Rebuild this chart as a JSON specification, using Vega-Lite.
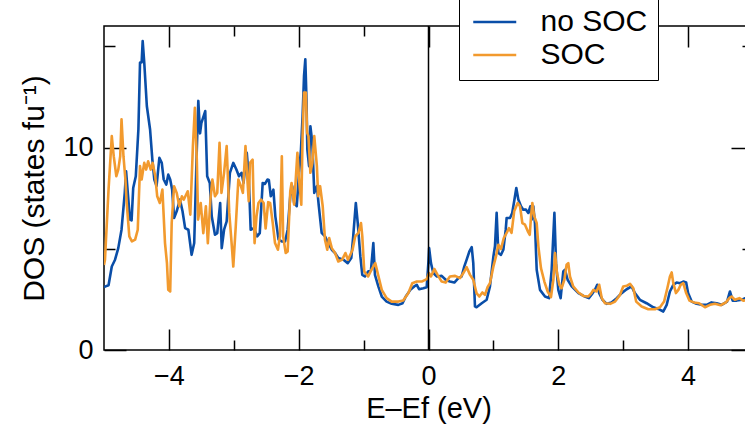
{
  "$schema": "https://vega.github.io/schema/vega-lite/v6.json",
  "autosize": {"type": "none"},
  "width": 649,
  "height": 324,
  "padding": {"left": 104, "top": 26, "right": 0, "bottom": 85},
  "background": "white",
  "config": {
    "view": {"stroke": "black", "strokeWidth": 1.5},
    "font": "Liberation Sans",
    "axis": {"domain": false, "grid": false, "tickColor": "black", "tickWidth": 1.5, "labelColor": "black", "titleColor": "black", "labelFontSize": 27, "titleFontSize": 29, "titleFontWeight": "normal", "labelFont": "Liberation Sans", "titleFont": "Liberation Sans"}
  },
  "layer": [
    {
      "data": {"values": [
{"s":"no SOC","E":-5.0,"D":3.1},{"s":"no SOC","E":-4.985,"D":3.13},{"s":"no SOC","E":-4.93,"D":3.2},{"s":"no SOC","E":-4.88,"D":4.12},{"s":"no SOC","E":-4.83,"D":4.46},{"s":"no SOC","E":-4.78,"D":5.03},{"s":"no SOC","E":-4.73,"D":5.94},{"s":"no SOC","E":-4.68,"D":7.76},{"s":"no SOC","E":-4.66,"D":8.83},{"s":"no SOC","E":-4.6,"D":6.44},{"s":"no SOC","E":-4.575,"D":6.4},{"s":"no SOC","E":-4.55,"D":8.0},{"s":"no SOC","E":-4.51,"D":8.58},{"s":"no SOC","E":-4.47,"D":10.9},{"s":"no SOC","E":-4.445,"D":14.19},{"s":"no SOC","E":-4.42,"D":14.2},{"s":"no SOC","E":-4.404,"D":15.26},{"s":"no SOC","E":-4.38,"D":14.2},{"s":"no SOC","E":-4.34,"D":12.05},{"s":"no SOC","E":-4.29,"D":10.89},{"s":"no SOC","E":-4.255,"D":9.4},{"s":"no SOC","E":-4.225,"D":8.42},{"s":"no SOC","E":-4.19,"D":8.1},{"s":"no SOC","E":-4.147,"D":9.49},{"s":"no SOC","E":-4.11,"D":9.24},{"s":"no SOC","E":-4.08,"D":8.42},{"s":"no SOC","E":-4.04,"D":8.17},{"s":"no SOC","E":-4.01,"D":8.66},{"s":"no SOC","E":-3.98,"D":8.42},{"s":"no SOC","E":-3.95,"D":7.92},{"s":"no SOC","E":-3.92,"D":6.52},{"s":"no SOC","E":-3.88,"D":6.85},{"s":"no SOC","E":-3.83,"D":7.43},{"s":"no SOC","E":-3.79,"D":6.85},{"s":"no SOC","E":-3.75,"D":6.02},{"s":"no SOC","E":-3.7,"D":5.94},{"s":"no SOC","E":-3.65,"D":4.7},{"s":"no SOC","E":-3.61,"D":5.28},{"s":"no SOC","E":-3.57,"D":9.9},{"s":"no SOC","E":-3.547,"D":12.3},{"s":"no SOC","E":-3.52,"D":10.7},{"s":"no SOC","E":-3.5,"D":11.2},{"s":"no SOC","E":-3.44,"D":11.8},{"s":"no SOC","E":-3.41,"D":8.58},{"s":"no SOC","E":-3.37,"D":8.25},{"s":"no SOC","E":-3.34,"D":6.6},{"s":"no SOC","E":-3.29,"D":5.69},{"s":"no SOC","E":-3.255,"D":5.77},{"s":"no SOC","E":-3.21,"D":7.26},{"s":"no SOC","E":-3.186,"D":5.03},{"s":"no SOC","E":-3.15,"D":5.94},{"s":"no SOC","E":-3.11,"D":6.35},{"s":"no SOC","E":-3.06,"D":8.75},{"s":"no SOC","E":-3.008,"D":9.24},{"s":"no SOC","E":-2.96,"D":8.91},{"s":"no SOC","E":-2.92,"D":8.58},{"s":"no SOC","E":-2.88,"D":8.75},{"s":"no SOC","E":-2.85,"D":8.25},{"s":"no SOC","E":-2.8,"D":9.74},{"s":"no SOC","E":-2.77,"D":8.58},{"s":"no SOC","E":-2.74,"D":5.94},{"s":"no SOC","E":-2.69,"D":6.02},{"s":"no SOC","E":-2.64,"D":5.61},{"s":"no SOC","E":-2.6,"D":5.77},{"s":"no SOC","E":-2.555,"D":8.25},{"s":"no SOC","E":-2.52,"D":8.2},{"s":"no SOC","E":-2.48,"D":8.42},{"s":"no SOC","E":-2.46,"D":8.4},{"s":"no SOC","E":-2.43,"D":7.59},{"s":"no SOC","E":-2.39,"D":7.92},{"s":"no SOC","E":-2.36,"D":6.6},{"s":"no SOC","E":-2.31,"D":5.45},{"s":"no SOC","E":-2.26,"D":5.36},{"s":"no SOC","E":-2.21,"D":5.36},{"s":"no SOC","E":-2.17,"D":5.94},{"s":"no SOC","E":-2.13,"D":7.59},{"s":"no SOC","E":-2.1,"D":8.09},{"s":"no SOC","E":-2.07,"D":7.26},{"s":"no SOC","E":-2.03,"D":7.1},{"s":"no SOC","E":-1.995,"D":8.75},{"s":"no SOC","E":-1.965,"D":9.9},{"s":"no SOC","E":-1.94,"D":11.55},{"s":"no SOC","E":-1.918,"D":13.53},{"s":"no SOC","E":-1.898,"D":14.36},{"s":"no SOC","E":-1.88,"D":12.38},{"s":"no SOC","E":-1.867,"D":9.9},{"s":"no SOC","E":-1.84,"D":9.08},{"s":"no SOC","E":-1.82,"D":11.05},{"s":"no SOC","E":-1.79,"D":10.23},{"s":"no SOC","E":-1.76,"D":7.76},{"s":"no SOC","E":-1.72,"D":8.09},{"s":"no SOC","E":-1.69,"D":7.1},{"s":"no SOC","E":-1.646,"D":5.78},{"s":"no SOC","E":-1.595,"D":5.61},{"s":"no SOC","E":-1.544,"D":5.28},{"s":"no SOC","E":-1.49,"D":4.95},{"s":"no SOC","E":-1.44,"D":4.79},{"s":"no SOC","E":-1.39,"D":4.54},{"s":"no SOC","E":-1.31,"D":4.46},{"s":"no SOC","E":-1.245,"D":4.29},{"s":"no SOC","E":-1.19,"D":4.54},{"s":"no SOC","E":-1.16,"D":5.61},{"s":"no SOC","E":-1.12,"D":7.26},{"s":"no SOC","E":-1.09,"D":6.27},{"s":"no SOC","E":-1.05,"D":4.62},{"s":"no SOC","E":-1.02,"D":3.71},{"s":"no SOC","E":-0.98,"D":3.63},{"s":"no SOC","E":-0.93,"D":3.88},{"s":"no SOC","E":-0.887,"D":3.93},{"s":"no SOC","E":-0.85,"D":5.28},{"s":"no SOC","E":-0.825,"D":3.71},{"s":"no SOC","E":-0.773,"D":3.14},{"s":"no SOC","E":-0.72,"D":2.64},{"s":"no SOC","E":-0.645,"D":2.39},{"s":"no SOC","E":-0.567,"D":2.28},{"s":"no SOC","E":-0.465,"D":2.23},{"s":"no SOC","E":-0.4,"D":2.31},{"s":"no SOC","E":-0.35,"D":2.64},{"s":"no SOC","E":-0.28,"D":2.97},{"s":"no SOC","E":-0.22,"D":3.14},{"s":"no SOC","E":-0.18,"D":3.22},{"s":"no SOC","E":-0.145,"D":3.0},{"s":"no SOC","E":-0.08,"D":3.05},{"s":"no SOC","E":-0.028,"D":3.1},{"s":"no SOC","E":0.0,"D":4.4},{"s":"no SOC","E":0.01,"D":5.03},{"s":"no SOC","E":0.038,"D":4.29},{"s":"no SOC","E":0.074,"D":3.8},{"s":"no SOC","E":0.13,"D":3.63},{"s":"no SOC","E":0.203,"D":3.66},{"s":"no SOC","E":0.265,"D":3.47},{"s":"no SOC","E":0.33,"D":3.38},{"s":"no SOC","E":0.398,"D":3.33},{"s":"no SOC","E":0.46,"D":3.55},{"s":"no SOC","E":0.51,"D":3.63},{"s":"no SOC","E":0.552,"D":4.13},{"s":"no SOC","E":0.588,"D":4.46},{"s":"no SOC","E":0.63,"D":4.87},{"s":"no SOC","E":0.666,"D":5.08},{"s":"no SOC","E":0.69,"D":4.29},{"s":"no SOC","E":0.716,"D":2.15},{"s":"no SOC","E":0.74,"D":2.11},{"s":"no SOC","E":0.82,"D":2.31},{"s":"no SOC","E":0.896,"D":2.48},{"s":"no SOC","E":0.947,"D":3.14},{"s":"no SOC","E":1.0,"D":4.62},{"s":"no SOC","E":1.024,"D":5.12},{"s":"no SOC","E":1.05,"D":6.77},{"s":"no SOC","E":1.076,"D":4.79},{"s":"no SOC","E":1.117,"D":4.7},{"s":"no SOC","E":1.153,"D":4.95},{"s":"no SOC","E":1.19,"D":5.94},{"s":"no SOC","E":1.204,"D":6.52},{"s":"no SOC","E":1.256,"D":6.52},{"s":"no SOC","E":1.29,"D":6.77},{"s":"no SOC","E":1.32,"D":7.35},{"s":"no SOC","E":1.353,"D":8.0},{"s":"no SOC","E":1.384,"D":7.43},{"s":"no SOC","E":1.425,"D":7.1},{"s":"no SOC","E":1.46,"D":6.93},{"s":"no SOC","E":1.502,"D":6.93},{"s":"no SOC","E":1.538,"D":6.77},{"s":"no SOC","E":1.57,"D":7.1},{"s":"no SOC","E":1.59,"D":6.44},{"s":"no SOC","E":1.615,"D":7.1},{"s":"no SOC","E":1.64,"D":6.27},{"s":"no SOC","E":1.667,"D":3.96},{"s":"no SOC","E":1.718,"D":2.97},{"s":"no SOC","E":1.795,"D":2.64},{"s":"no SOC","E":1.857,"D":2.56},{"s":"no SOC","E":1.898,"D":3.96},{"s":"no SOC","E":1.94,"D":6.77},{"s":"no SOC","E":1.965,"D":4.29},{"s":"no SOC","E":2.0,"D":2.97},{"s":"no SOC","E":2.036,"D":2.56},{"s":"no SOC","E":2.077,"D":3.88},{"s":"no SOC","E":2.103,"D":3.96},{"s":"no SOC","E":2.144,"D":3.47},{"s":"no SOC","E":2.206,"D":3.14},{"s":"no SOC","E":2.31,"D":2.81},{"s":"no SOC","E":2.41,"D":2.64},{"s":"no SOC","E":2.47,"D":2.56},{"s":"no SOC","E":2.53,"D":2.81},{"s":"no SOC","E":2.565,"D":2.97},{"s":"no SOC","E":2.6,"D":3.22},{"s":"no SOC","E":2.63,"D":2.81},{"s":"no SOC","E":2.68,"D":2.48},{"s":"no SOC","E":2.745,"D":2.28},{"s":"no SOC","E":2.82,"D":2.35},{"s":"no SOC","E":2.9,"D":2.56},{"s":"no SOC","E":2.976,"D":2.81},{"s":"no SOC","E":3.053,"D":3.0},{"s":"no SOC","E":3.13,"D":3.14},{"s":"no SOC","E":3.18,"D":2.81},{"s":"no SOC","E":3.258,"D":2.48},{"s":"no SOC","E":3.36,"D":2.31},{"s":"no SOC","E":3.464,"D":2.11},{"s":"no SOC","E":3.54,"D":2.03},{"s":"no SOC","E":3.618,"D":1.9},{"s":"no SOC","E":3.67,"D":2.23},{"s":"no SOC","E":3.72,"D":2.89},{"s":"no SOC","E":3.772,"D":3.22},{"s":"no SOC","E":3.823,"D":3.33},{"s":"no SOC","E":3.875,"D":3.3},{"s":"no SOC","E":3.926,"D":3.38},{"s":"no SOC","E":3.97,"D":3.33},{"s":"no SOC","E":4.0,"D":2.81},{"s":"no SOC","E":4.055,"D":2.39},{"s":"no SOC","E":4.13,"D":2.28},{"s":"no SOC","E":4.21,"D":2.23},{"s":"no SOC","E":4.286,"D":2.23},{"s":"no SOC","E":4.36,"D":2.35},{"s":"no SOC","E":4.44,"D":2.31},{"s":"no SOC","E":4.516,"D":2.23},{"s":"no SOC","E":4.6,"D":2.39},{"s":"no SOC","E":4.645,"D":2.89},{"s":"no SOC","E":4.687,"D":2.44},{"s":"no SOC","E":4.75,"D":2.44},{"s":"no SOC","E":4.83,"D":2.48},{"s":"no SOC","E":4.88,"D":2.56},{"s":"no SOC","E":5.0,"D":2.5},
{"s":"SOC","E":-5.0,"D":4.2},{"s":"SOC","E":-4.985,"D":4.46},{"s":"SOC","E":-4.93,"D":7.92},{"s":"SOC","E":-4.88,"D":10.56},{"s":"SOC","E":-4.85,"D":9.57},{"s":"SOC","E":-4.81,"D":8.58},{"s":"SOC","E":-4.78,"D":8.91},{"s":"SOC","E":-4.75,"D":9.57},{"s":"SOC","E":-4.73,"D":11.39},{"s":"SOC","E":-4.7,"D":9.57},{"s":"SOC","E":-4.67,"D":8.42},{"s":"SOC","E":-4.65,"D":7.26},{"s":"SOC","E":-4.61,"D":5.61},{"s":"SOC","E":-4.57,"D":5.36},{"s":"SOC","E":-4.52,"D":5.45},{"s":"SOC","E":-4.48,"D":5.94},{"s":"SOC","E":-4.445,"D":9.08},{"s":"SOC","E":-4.42,"D":8.42},{"s":"SOC","E":-4.38,"D":9.24},{"s":"SOC","E":-4.35,"D":8.91},{"s":"SOC","E":-4.32,"D":9.32},{"s":"SOC","E":-4.28,"D":8.91},{"s":"SOC","E":-4.25,"D":9.24},{"s":"SOC","E":-4.21,"D":8.58},{"s":"SOC","E":-4.18,"D":7.59},{"s":"SOC","E":-4.14,"D":7.26},{"s":"SOC","E":-4.1,"D":7.92},{"s":"SOC","E":-4.06,"D":5.28},{"s":"SOC","E":-4.03,"D":4.29},{"s":"SOC","E":-4.01,"D":2.97},{"s":"SOC","E":-3.98,"D":2.89},{"s":"SOC","E":-3.957,"D":6.27},{"s":"SOC","E":-3.92,"D":8.09},{"s":"SOC","E":-3.88,"D":7.76},{"s":"SOC","E":-3.84,"D":7.1},{"s":"SOC","E":-3.8,"D":7.59},{"s":"SOC","E":-3.77,"D":7.43},{"s":"SOC","E":-3.71,"D":7.84},{"s":"SOC","E":-3.67,"D":6.68},{"s":"SOC","E":-3.63,"D":10.07},{"s":"SOC","E":-3.6,"D":11.96},{"s":"SOC","E":-3.57,"D":9.4},{"s":"SOC","E":-3.55,"D":6.44},{"s":"SOC","E":-3.51,"D":7.26},{"s":"SOC","E":-3.47,"D":5.77},{"s":"SOC","E":-3.43,"D":7.1},{"s":"SOC","E":-3.4,"D":5.28},{"s":"SOC","E":-3.36,"D":7.43},{"s":"SOC","E":-3.33,"D":8.42},{"s":"SOC","E":-3.29,"D":7.59},{"s":"SOC","E":-3.255,"D":7.76},{"s":"SOC","E":-3.22,"D":10.23},{"s":"SOC","E":-3.19,"D":7.76},{"s":"SOC","E":-3.15,"D":8.75},{"s":"SOC","E":-3.11,"D":10.07},{"s":"SOC","E":-3.07,"D":6.77},{"s":"SOC","E":-3.03,"D":5.12},{"s":"SOC","E":-3.008,"D":4.12},{"s":"SOC","E":-2.97,"D":6.1},{"s":"SOC","E":-2.93,"D":8.42},{"s":"SOC","E":-2.89,"D":8.09},{"s":"SOC","E":-2.86,"D":7.76},{"s":"SOC","E":-2.82,"D":10.07},{"s":"SOC","E":-2.8,"D":8.91},{"s":"SOC","E":-2.77,"D":7.35},{"s":"SOC","E":-2.75,"D":9.24},{"s":"SOC","E":-2.71,"D":9.4},{"s":"SOC","E":-2.68,"D":5.28},{"s":"SOC","E":-2.65,"D":6.6},{"s":"SOC","E":-2.62,"D":7.26},{"s":"SOC","E":-2.58,"D":7.43},{"s":"SOC","E":-2.54,"D":7.26},{"s":"SOC","E":-2.51,"D":6.0},{"s":"SOC","E":-2.47,"D":7.3},{"s":"SOC","E":-2.44,"D":7.26},{"s":"SOC","E":-2.4,"D":6.27},{"s":"SOC","E":-2.365,"D":5.28},{"s":"SOC","E":-2.32,"D":4.95},{"s":"SOC","E":-2.29,"D":5.61},{"s":"SOC","E":-2.26,"D":9.57},{"s":"SOC","E":-2.24,"D":5.61},{"s":"SOC","E":-2.2,"D":4.79},{"s":"SOC","E":-2.17,"D":4.87},{"s":"SOC","E":-2.13,"D":7.84},{"s":"SOC","E":-2.11,"D":8.25},{"s":"SOC","E":-2.07,"D":7.18},{"s":"SOC","E":-2.02,"D":9.74},{"s":"SOC","E":-1.99,"D":8.25},{"s":"SOC","E":-1.96,"D":7.18},{"s":"SOC","E":-1.94,"D":10.56},{"s":"SOC","E":-1.918,"D":12.71},{"s":"SOC","E":-1.89,"D":12.71},{"s":"SOC","E":-1.87,"D":10.73},{"s":"SOC","E":-1.85,"D":10.56},{"s":"SOC","E":-1.82,"D":8.75},{"s":"SOC","E":-1.79,"D":9.24},{"s":"SOC","E":-1.76,"D":10.56},{"s":"SOC","E":-1.72,"D":9.08},{"s":"SOC","E":-1.7,"D":7.59},{"s":"SOC","E":-1.67,"D":8.09},{"s":"SOC","E":-1.63,"D":7.1},{"s":"SOC","E":-1.595,"D":5.45},{"s":"SOC","E":-1.56,"D":4.95},{"s":"SOC","E":-1.53,"D":5.53},{"s":"SOC","E":-1.49,"D":5.03},{"s":"SOC","E":-1.44,"D":4.79},{"s":"SOC","E":-1.39,"D":4.37},{"s":"SOC","E":-1.33,"D":4.46},{"s":"SOC","E":-1.28,"D":4.79},{"s":"SOC","E":-1.24,"D":4.46},{"s":"SOC","E":-1.17,"D":4.95},{"s":"SOC","E":-1.13,"D":5.61},{"s":"SOC","E":-1.08,"D":5.78},{"s":"SOC","E":-1.04,"D":6.27},{"s":"SOC","E":-1.02,"D":5.61},{"s":"SOC","E":-0.99,"D":3.88},{"s":"SOC","E":-0.93,"D":3.63},{"s":"SOC","E":-0.88,"D":3.96},{"s":"SOC","E":-0.82,"D":4.29},{"s":"SOC","E":-0.77,"D":3.63},{"s":"SOC","E":-0.72,"D":2.97},{"s":"SOC","E":-0.645,"D":2.56},{"s":"SOC","E":-0.567,"D":2.39},{"s":"SOC","E":-0.465,"D":2.39},{"s":"SOC","E":-0.39,"D":2.44},{"s":"SOC","E":-0.31,"D":2.81},{"s":"SOC","E":-0.25,"D":3.3},{"s":"SOC","E":-0.18,"D":3.38},{"s":"SOC","E":-0.105,"D":3.38},{"s":"SOC","E":-0.028,"D":3.5},{"s":"SOC","E":0.008,"D":3.8},{"s":"SOC","E":0.038,"D":3.63},{"s":"SOC","E":0.09,"D":4.0},{"s":"SOC","E":0.14,"D":3.71},{"s":"SOC","E":0.203,"D":3.38},{"s":"SOC","E":0.265,"D":3.33},{"s":"SOC","E":0.33,"D":3.63},{"s":"SOC","E":0.41,"D":3.66},{"s":"SOC","E":0.485,"D":3.55},{"s":"SOC","E":0.537,"D":3.8},{"s":"SOC","E":0.588,"D":4.09},{"s":"SOC","E":0.64,"D":3.71},{"s":"SOC","E":0.69,"D":3.47},{"s":"SOC","E":0.74,"D":2.81},{"s":"SOC","E":0.783,"D":2.64},{"s":"SOC","E":0.83,"D":2.84},{"s":"SOC","E":0.87,"D":2.72},{"s":"SOC","E":0.91,"D":3.1},{"s":"SOC","E":0.947,"D":3.3},{"s":"SOC","E":1.0,"D":4.13},{"s":"SOC","E":1.04,"D":4.62},{"s":"SOC","E":1.076,"D":5.2},{"s":"SOC","E":1.117,"D":4.99},{"s":"SOC","E":1.16,"D":5.53},{"s":"SOC","E":1.204,"D":5.78},{"s":"SOC","E":1.24,"D":6.02},{"s":"SOC","E":1.28,"D":5.78},{"s":"SOC","E":1.32,"D":6.85},{"s":"SOC","E":1.374,"D":7.26},{"s":"SOC","E":1.41,"D":7.1},{"s":"SOC","E":1.446,"D":6.27},{"s":"SOC","E":1.487,"D":6.19},{"s":"SOC","E":1.53,"D":5.86},{"s":"SOC","E":1.56,"D":5.69},{"s":"SOC","E":1.58,"D":6.6},{"s":"SOC","E":1.6,"D":7.26},{"s":"SOC","E":1.63,"D":6.6},{"s":"SOC","E":1.667,"D":6.27},{"s":"SOC","E":1.693,"D":5.12},{"s":"SOC","E":1.733,"D":4.04},{"s":"SOC","E":1.785,"D":3.38},{"s":"SOC","E":1.836,"D":2.89},{"s":"SOC","E":1.887,"D":2.61},{"s":"SOC","E":1.924,"D":3.47},{"s":"SOC","E":1.95,"D":4.79},{"s":"SOC","E":1.98,"D":3.8},{"s":"SOC","E":2.016,"D":3.22},{"s":"SOC","E":2.05,"D":3.05},{"s":"SOC","E":2.093,"D":3.47},{"s":"SOC","E":2.128,"D":4.21},{"s":"SOC","E":2.154,"D":4.29},{"s":"SOC","E":2.18,"D":3.63},{"s":"SOC","E":2.23,"D":3.14},{"s":"SOC","E":2.31,"D":2.84},{"s":"SOC","E":2.386,"D":2.67},{"s":"SOC","E":2.46,"D":2.64},{"s":"SOC","E":2.51,"D":2.81},{"s":"SOC","E":2.54,"D":2.97},{"s":"SOC","E":2.59,"D":2.89},{"s":"SOC","E":2.63,"D":3.22},{"s":"SOC","E":2.67,"D":2.56},{"s":"SOC","E":2.72,"D":2.31},{"s":"SOC","E":2.8,"D":2.28},{"s":"SOC","E":2.875,"D":2.39},{"s":"SOC","E":2.95,"D":2.72},{"s":"SOC","E":3.0,"D":3.14},{"s":"SOC","E":3.053,"D":3.17},{"s":"SOC","E":3.105,"D":3.27},{"s":"SOC","E":3.156,"D":3.05},{"s":"SOC","E":3.2,"D":2.39},{"s":"SOC","E":3.284,"D":2.15},{"s":"SOC","E":3.387,"D":2.01},{"s":"SOC","E":3.49,"D":2.01},{"s":"SOC","E":3.567,"D":2.11},{"s":"SOC","E":3.63,"D":2.39},{"s":"SOC","E":3.68,"D":3.05},{"s":"SOC","E":3.72,"D":3.63},{"s":"SOC","E":3.747,"D":3.83},{"s":"SOC","E":3.772,"D":3.3},{"s":"SOC","E":3.813,"D":2.81},{"s":"SOC","E":3.85,"D":2.97},{"s":"SOC","E":3.886,"D":3.22},{"s":"SOC","E":3.926,"D":3.3},{"s":"SOC","E":3.97,"D":2.81},{"s":"SOC","E":4.02,"D":2.44},{"s":"SOC","E":4.09,"D":2.35},{"s":"SOC","E":4.17,"D":2.31},{"s":"SOC","E":4.26,"D":2.11},{"s":"SOC","E":4.337,"D":2.23},{"s":"SOC","E":4.414,"D":2.28},{"s":"SOC","E":4.5,"D":2.21},{"s":"SOC","E":4.583,"D":2.35},{"s":"SOC","E":4.635,"D":2.56},{"s":"SOC","E":4.67,"D":2.64},{"s":"SOC","E":4.72,"D":2.48},{"s":"SOC","E":4.79,"D":2.56},{"s":"SOC","E":4.85,"D":2.44},{"s":"SOC","E":5.0,"D":2.5}
      ]},
      "mark": {"type": "line", "strokeWidth": 2.6, "clip": true, "strokeJoin": "round"},
      "encoding": {
        "x": {"field": "E", "type": "quantitative", "scale": {"domain": [-5, 5], "nice": false, "zero": false},
          "axis": {"orient": "bottom", "values": [-4, -3, -2, -1, 0, 1, 2, 3, 4], "tickSize": {"condition": {"test": "datum.value % 2 !== 0", "value": -10}, "value": -21}, "labelExpr": "datum.value % 2 !== 0 ? '' : datum.label", "labelPadding": 34, "title": "E–Ef (eV)", "titlePadding": 5}},
        "y": {"field": "D", "type": "quantitative", "scale": {"domain": [0, 16], "nice": false},
          "axis": {"orient": "left", "values": [0, 5, 10, 15], "tickSize": {"condition": {"test": "datum.value % 10 !== 0", "value": -11}, "value": -22}, "labelExpr": "datum.value % 10 !== 0 ? '' : datum.label", "labelPadding": 33, "title": "DOS (states fu⁻¹)", "titleFontSize": 30, "titlePadding": 13}},
        "color": {"field": "s", "type": "nominal", "scale": {"domain": ["no SOC", "SOC"], "range": ["#0a4ea8", "#f29a2e"]},
          "legend": {"orient": "none", "legendX": 355, "legendY": -29, "title": null, "strokeColor": "black", "fillColor": "white", "padding": 10, "symbolType": "M-1,0H3", "symbolSize": 462, "symbolStrokeWidth": 2.6, "labelFontSize": 30, "labelFont": "Liberation Sans", "labelColor": "black", "labelOffset": 41.5, "rowPadding": 3}}
      }
    },
    {
      "data": {"values": [{}]},
      "mark": {"type": "rule", "color": "black", "strokeWidth": 1.5},
      "encoding": {
        "x": {"datum": 0, "type": "quantitative", "axis": {"orient": "top", "values": [-4, -3, -2, -1, 0, 1, 2, 3, 4], "tickSize": {"condition": {"test": "datum.value % 2 !== 0", "value": -10}, "value": -21}, "labels": false, "title": null}},
        "y": {"datum": 0, "type": "quantitative", "axis": {"orient": "right", "values": [0, 5, 10, 15], "tickSize": {"condition": {"test": "datum.value % 10 !== 0", "value": -11}, "value": -22}, "labels": false, "title": null}},
        "y2": {"datum": 16}
      }
    }
  ],
  "resolve": {"axis": {"x": "independent", "y": "independent"}}
}
